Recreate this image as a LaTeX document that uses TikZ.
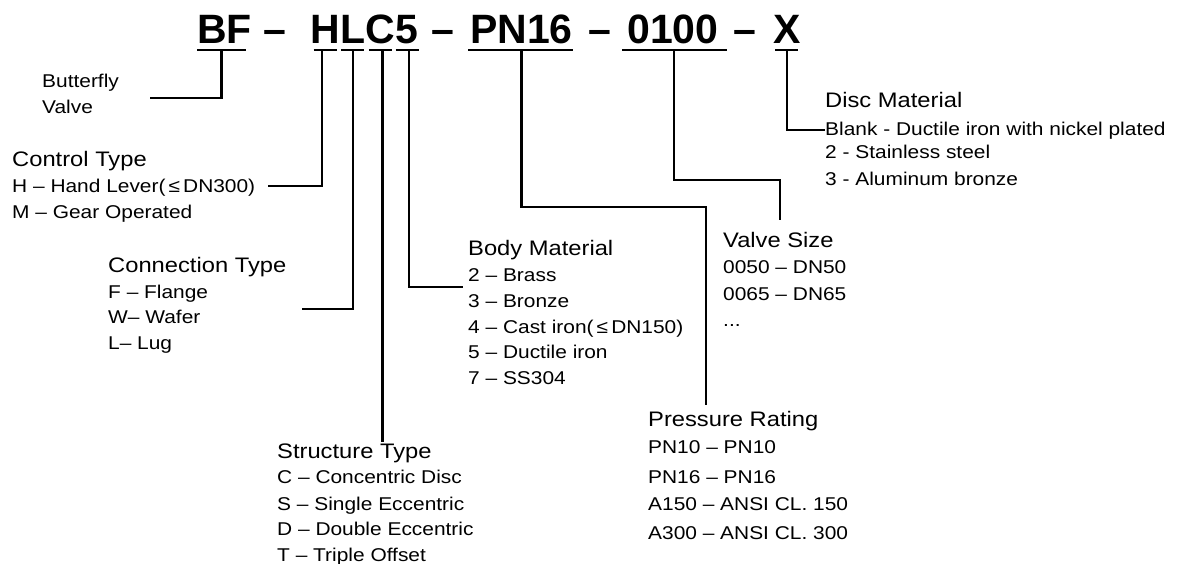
\documentclass[tikz,border=0pt]{standalone}
\usepackage{fontspec}
\setmainfont{Liberation Sans}[FakeStretch=1.13]
\newfontfamily\codefont{Liberation Sans}
\usetikzlibrary{positioning}

\begin{document}
\begin{tikzpicture}[
    x=1pt, y=-1pt,
    code/.style={
      font=\codefont\bfseries\fontsize{41}{41}\selectfont,
      inner sep=0pt,
      text depth=0pt,
      anchor=base west
    },
    head/.style={
      font=\fontsize{21}{21}\selectfont,
      inner sep=0pt,
      anchor=base west
    },
    item/.style={
      font=\fontsize{18.5}{18.5}\selectfont,
      inner sep=0pt,
      anchor=base west
    },
    uline/.style={line width=2.3pt},
    lead/.style={line width=2.1pt}
  ]
  \useasboundingbox (0,0) rectangle (1186,563);

  % model code
  \node[code] (bf) at (197,43) {BF};
  \node[code] (d1) at (263,43) {–};
  \node[code] (ctl) at (310,43) {H};
  \node[code, base right=0pt of ctl] (con) {L};
  \node[code, base right=0pt of con] (str) {C};
  \node[code, base right=0pt of str] (bod) {5};
  \node[code] (d2) at (431,43) {–};
  \node[code] (prs) at (470,43) {PN16};
  \node[code] (d3) at (588,43) {–};
  \node[code] (siz) at (627,43) {0100};
  \node[code] (d4) at (733,43) {–};
  \node[code] (dsc) at (773,43) {X};

  % underlines
  \draw[uline] ([yshift=-7pt]bf.south west) -- ([xshift=-6pt,yshift=-7pt]bf.south east);
  \draw[uline] ([xshift=-2pt,yshift=-7pt]prs.south west) -- ([yshift=-7pt]prs.south east);
  \draw[uline] ([xshift=-5pt,yshift=-7pt]siz.south west) -- ([xshift=8pt,yshift=-7pt]siz.south east);
  \foreach \n in {ctl,con,str,bod,dsc}
    \draw[uline] ([xshift=-11.5pt,yshift=-7pt]\n.south) -- ([xshift=11.5pt,yshift=-7pt]\n.south);

  % labels
  \node[item] (bfv-1) at (42,87) {Butterfly};
  \node[item] (bfv-2) at (42,113) {Valve};

  \node[head] (ctlhead) at (12,166) {Control Type};
  \foreach \t/\y [count=\i] in {H – Hand Lever(\,≤\,DN300)/192, M – Gear Operated/218}
    \node[item] (ctl-\i) at (12,\y) {\t};

  \node[head] (conhead) at (108,272) {Connection Type};
  \foreach \t/\y [count=\i] in {F – Flange/298, W– Wafer/323, L– Lug/349}
    \node[item] (con-\i) at (108,\y) {\t};

  \node[head] (bodhead) at (468,255) {Body Material};
  \foreach \t/\y [count=\i] in {2 – Brass/281, 3 – Bronze/307, 4 – Cast iron(\,≤\,DN150)/333,
      5 – Ductile iron/358, 7 – SS304/384}
    \node[item] (bod-\i) at (468,\y) {\t};

  \node[head] (strhead) at (277,458) {Structure Type};
  \foreach \t/\y [count=\i] in {C – Concentric Disc/483, S – Single Eccentric/510,
      D – Double Eccentric/535, T – Triple Offset/561}
    \node[item] (str-\i) at (277,\y) {\t};

  \node[head] (prshead) at (648,426) {Pressure Rating};
  \foreach \t/\y [count=\i] in {PN10 – PN10/453, PN16 – PN16/483,
      A150 – ANSI CL. 150/510, A300 – ANSI CL. 300/539}
    \node[item] (prs-\i) at (648,\y) {\t};

  \node[head] (sizhead) at (723,247) {Valve Size};
  \foreach \t/\y [count=\i] in {0050 – DN50/273, 0065 – DN65/300}
    \node[item] (siz-\i) at (723,\y) {\t};
  \node[item] (siz-3) at (723,326) {...};

  \node[head] (dschead) at (825,107) {Disc Material};
  \foreach \t/\y [count=\i] in {Blank - Ductile iron with nickel plated/135,
      2 - Stainless steel/158, 3 - Aluminum bronze/185}
    \node[item] (dsc-\i) at (825,\y) {\t};

  % leader ends
  \coordinate (bf-in) at (150,98);
  \coordinate (ctl-in) at (268,186);
  \coordinate (con-in) at (302,309);
  \coordinate (str-in) at (382,435);
  \coordinate (bod-in) at (463,287);
  \coordinate (prs-bend) at (706,207);
  \coordinate (prs-in) at (706,405);
  \coordinate (siz-bend) at (780,180);
  \coordinate (siz-in) at (780,220);

  % leaders
  \draw[lead] ([xshift=-3pt,yshift=-7pt]bf.south) |- (bf-in);
  \draw[lead] ([xshift=-3pt,yshift=-7pt]ctl.south) |- (ctl-in);
  \draw[lead] ([yshift=-7pt]con.south) |- (con-in);
  \draw[lead] ([xshift=2pt,yshift=-7pt]str.south) -- ([xshift=2pt,yshift=-7pt]str.south |- str-in);
  \draw[lead] ([xshift=2pt,yshift=-7pt]bod.south) |- (bod-in);
  \draw[lead] ([yshift=-7pt]prs.south) |- (prs-bend) -- (prs-in);
  \draw[lead] ([xshift=1pt,yshift=-7pt]siz.south) |- (siz-bend) -- (siz-in);
  \draw[lead] ([yshift=-7pt]dsc.south) |- (dsc-1.west);

\end{tikzpicture}
\end{document}
